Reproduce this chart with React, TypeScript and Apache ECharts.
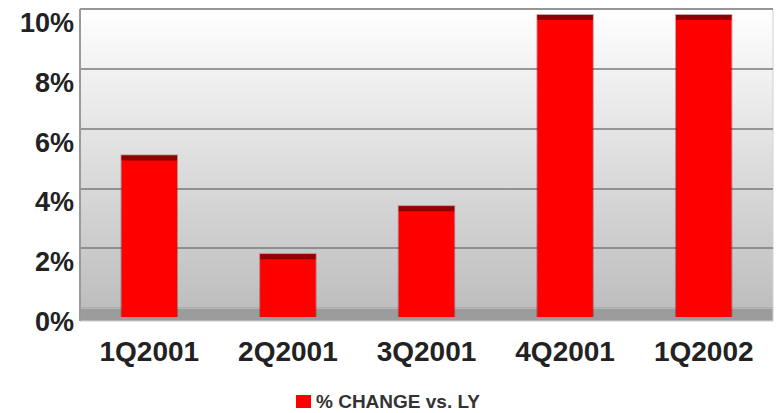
import React, { useEffect, useRef } from "react";
import * as echarts from "echarts";

const categories = ["1Q2001", "2Q2001", "3Q2001", "4Q2001", "1Q2002"];
const values = [5.1, 1.8, 3.4, 9.8, 9.8];
const seriesName = "% CHANGE vs. LY";
const yTicks = [0, 2, 4, 6, 8, 10];

const GRID = { left: 80, right: 3, top: 9, bottom: 105 };
const FONT = "Liberation Sans, Arial, sans-serif";

export default function App() {
  const ref = useRef<HTMLDivElement>(null);
  useEffect(() => {
    document.body.style.margin = "0";
    const chart = echarts.init(ref.current!, null, { renderer: "svg" });
    const W = 776;
    const H = 413;
    const plotBottom = H - GRID.bottom;
    chart.setOption({
      animation: false,
      backgroundColor: "#ffffff",
      grid: {
        left: GRID.left,
        right: GRID.right,
        top: GRID.top,
        bottom: GRID.bottom,
        show: true,
        borderColor: "#d2d2d2",
        borderWidth: 1,
        backgroundColor: new echarts.graphic.LinearGradient(0, 0, 0, 1, [
          { offset: 0, color: "#ffffff" },
          { offset: 1, color: "#bebebe" },
        ]),
      },
      legend: {
        top: 392,
        left: "center",
        itemWidth: 15,
        itemHeight: 13,
        itemGap: 4,
        icon: "rect",
        padding: 0,
        textStyle: {
          fontFamily: FONT,
          fontWeight: "bold",
          fontSize: 19,
          lineHeight: 19,
          color: "#333",
        },
        data: [{ name: seriesName, icon: "rect" }],
      },
      graphic: [
        {
          type: "rect",
          z: 1,
          shape: { x: GRID.left, y: plotBottom, width: W - GRID.left - GRID.right, height: 13 },
          style: { fill: "#9c9c9c", stroke: "#d0d0d0", lineWidth: 1 },
        },
        {
          type: "line",
          z: 1,
          shape: { x1: GRID.left, y1: GRID.top, x2: GRID.left, y2: plotBottom + 13 },
          style: { stroke: "#9a9a9a", lineWidth: 2 },
        },
      ],
      xAxis: {
        type: "category",
        data: categories,
        axisLine: { show: false },
        axisTick: { show: false },
        axisLabel: {
          margin: 29,
          fontFamily: FONT,
          fontWeight: "bold",
          fontSize: 28,
          color: "#222",
        },
      },
      yAxis: {
        type: "value",
        min: yTicks[0],
        max: yTicks[yTicks.length - 1],
        interval: 2,
        axisLine: { show: false },
        axisTick: { show: false },
        splitLine: { lineStyle: { color: "#7a7a7a", width: 1.5 } },
        axisLabel: {
          margin: 6,
          formatter: (v: number) => v + "%",
          fontFamily: FONT,
          fontWeight: "bold",
          fontSize: 27,
          color: "#222",
          verticalAlign: "top",
          lineHeight: 28,
        },
      },
      series: [
        {
          name: seriesName,
          type: "custom",
          z: 3,
          itemStyle: { color: "#ff0000" },
          data: values.map((v, i) => [i, v]),
          renderItem: (params: any, api: any) => {
            const idx = api.value(0);
            const val = api.value(1);
            const top = api.coord([idx, val]);
            const base = api.coord([idx, 0]);
            const bw = api.size([1, 0])[0] * 0.4;
            const x = top[0] - bw / 2;
            const bottom = base[1] + 9;
            return {
              type: "group",
              children: [
                {
                  type: "rect",
                  shape: { x: x - 1, y: top[1] - 1, width: bw + 2, height: bottom - top[1] + 1 },
                  style: { fill: "rgba(120,0,0,0.35)" },
                },
                {
                  type: "rect",
                  shape: { x, y: top[1], width: bw, height: bottom - top[1] },
                  style: { fill: "#ff0000" },
                },
                {
                  type: "rect",
                  shape: { x, y: top[1], width: bw, height: 5 },
                  style: { fill: "#8e0000" },
                },
              ],
            };
          },
        },
      ],
    });
    return () => chart.dispose();
  }, []);
  return (
    <div
      ref={ref}
      style={{ position: "fixed", left: 0, top: 0, width: 776, height: 413 }}
    />
  );
}
